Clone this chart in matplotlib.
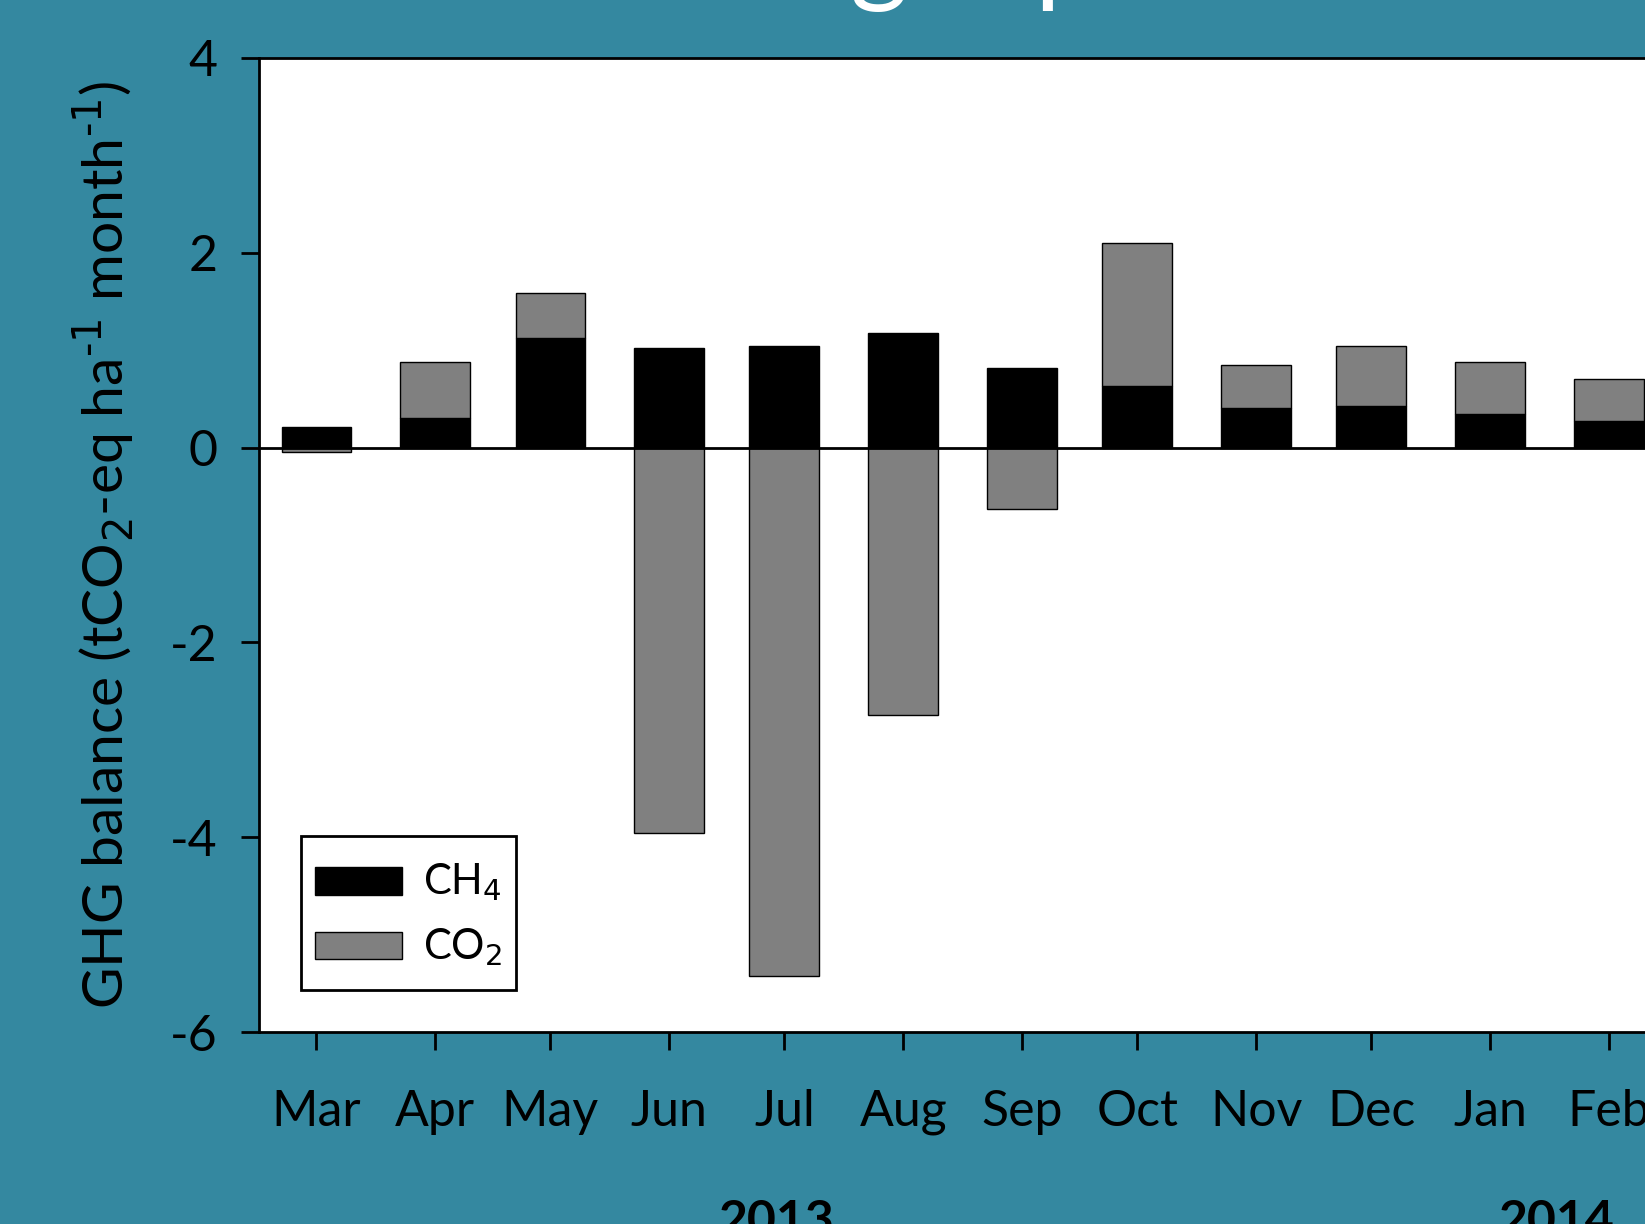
import numpy as np
import matplotlib.pyplot as plt
import matplotlib.patches as mpatches
from matplotlib.legend_handler import HandlerPatch

months = ['Mar', 'Apr', 'May', 'Jun', 'Jul', 'Aug', 'Sep', 'Oct', 'Nov', 'Dec', 'Jan', 'Feb']
mid_dates = np.array(['2013-03-16', '2013-04-16', '2013-05-16', '2013-06-16',
                      '2013-07-16', '2013-08-16', '2013-09-16', '2013-10-16',
                      '2013-11-16', '2013-12-16', '2014-01-16', '2014-02-16'],
                     dtype='datetime64[D]')
ch4 = [0.215, 0.30, 1.12, 1.02, 1.04, 1.17, 0.82, 0.635, 0.41, 0.43, 0.345, 0.27]
co2 = [-0.05, 0.58, 0.47, -3.95, -5.42, -2.74, -0.635, 1.465, 0.44, 0.61, 0.53, 0.43]
years = ['2013', '2014']

bg = '#3488a0'
plt.rcParams['font.family'] = ['Lato', 'DejaVu Sans']
plt.rcParams['axes.unicode_minus'] = False

fig = plt.figure(figsize=(16.45, 12.24), dpi=100, facecolor=bg)
ax = fig.add_axes([0.1574, 0.1566, 0.851, 0.7963])

# CO2 sits on top of CH4 when positive, hangs from zero when negative
co2_bottom = [c if v > 0 else 0 for c, v in zip(ch4, co2)]
b1 = ax.bar(mid_dates, ch4, width=18.2, color='black', edgecolor='black', linewidth=1)
b2 = ax.bar(mid_dates, co2, bottom=co2_bottom, width=18.2, color='#808080',
            edgecolor='black', linewidth=1)
ax.axhline(0, color='black', lw=2, zorder=3)

ax.set_xlim(np.datetime64('2013-03-01'), np.datetime64('2014-03-01'))
ax.set_ylim(-6, 4)
ax.set_xticks(mid_dates)
ax.set_xticklabels(months)
ax.set_yticks([-6, -4, -2, 0, 2, 4])
ax.tick_params(direction='out', length=13, width=2, labelsize=36)
ax.tick_params(axis='x', pad=28)
ax.tick_params(axis='y', pad=17)
for s in ax.spines.values():
    s.set_linewidth(2)

ax.set_ylabel(r'GHG balance (tCO$_2$-eq ha$^{\text{-}1}$ month$^{\text{-}1}$)', fontsize=41)
ax.yaxis.set_label_coords(-0.087, 0.5)


def slim_patch(legend, orig_handle, xdescent, ydescent, width, height, fontsize):
    # keep the swatch thin while the legend rows stay tall
    h = 0.44 * height
    return mpatches.Rectangle((-xdescent, -ydescent + (height - h) / 2), width, h)


leg = ax.legend([b1.patches[0], b2.patches[0]], ['CH$_4$', 'CO$_2$'],
                loc='lower left', bbox_to_anchor=(0.03, 0.043), fontsize=30,
                handlelength=2.1, handleheight=1.93, handletextpad=0.5,
                labelspacing=0.05, borderpad=0.33, borderaxespad=0,
                fancybox=False, framealpha=1,
                handler_map={mpatches.Rectangle: HandlerPatch(patch_func=slim_patch)})
leg.get_frame().set_edgecolor('black')
leg.get_frame().set_linewidth(2)

fig.text(0.472, 0.0204, years[0], ha='center', va='top', fontsize=36, fontweight='bold')
fig.text(0.946, 0.0204, years[1], ha='center', va='top', fontsize=36, fontweight='bold')

fig.text(0.587, 1.0065, 'GHG budget per month', ha='center', va='baseline',
         fontsize=80, color='white')

fig.savefig('out.png', dpi=100, facecolor=bg)
